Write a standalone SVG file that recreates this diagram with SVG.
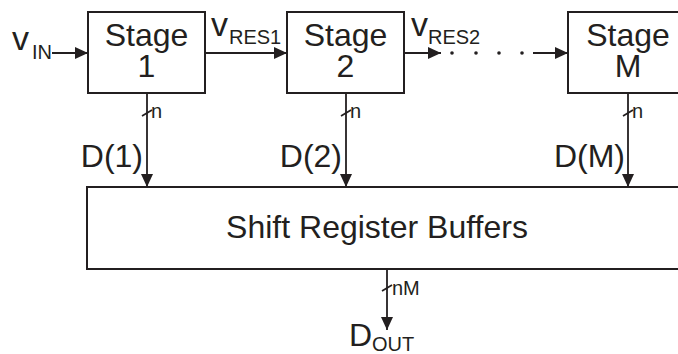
<svg xmlns="http://www.w3.org/2000/svg" width="678" height="354" viewBox="0 0 678 354">
  <defs>
    <marker id="ah" viewBox="0 0 13 12" refX="13" refY="6" markerWidth="13" markerHeight="12" markerUnits="userSpaceOnUse" orient="auto">
      <path d="M0,0 L13,6 L0,12 z" fill="#231f20"/>
    </marker>
  </defs>
  <style>
    .box { fill: #ffffff; stroke: #231f20; stroke-width: 2; }
    .ln { fill: none; stroke: #231f20; stroke-width: 1.8; }
    .arr { fill: none; stroke: #231f20; stroke-width: 1.8; marker-end: url(#ah); }
    .t { font-family: "Liberation Sans", Arial, sans-serif; fill: #231f20; }
    .big { font-size: 32px; }
    .v { font-size: 34px; }
    .sub { font-size: 20px; }
    .sm { font-size: 20px; }
    .dot { fill: #231f20; }
  </style>
  <rect width="678" height="354" fill="#ffffff"/>

  <g id="stage1">
    <rect class="box" x="88" y="12" width="117" height="81"/>
    <text class="t big" text-anchor="middle"><tspan x="146.5" y="46">Stage</tspan><tspan x="146.5" y="77">1</tspan></text>
  </g>
  <g id="stage2">
    <rect class="box" x="287" y="12" width="117" height="81"/>
    <text class="t big" text-anchor="middle"><tspan x="345.5" y="46">Stage</tspan><tspan x="345.5" y="77">2</tspan></text>
  </g>
  <g id="stageM">
    <rect class="box" x="568" y="12" width="120" height="81"/>
    <text class="t big" text-anchor="middle"><tspan x="628" y="46">Stage</tspan><tspan x="628" y="77">M</tspan></text>
  </g>
  <g id="shift">
    <rect class="box" x="87" y="187" width="605" height="82"/>
    <text class="t big" x="377" y="238" text-anchor="middle">Shift Register Buffers</text>
  </g>

  <g id="connectors">
    <line class="arr" x1="52" y1="53" x2="88" y2="53"/>
    <line class="arr" x1="205" y1="53" x2="287" y2="53"/>
    <line class="arr" x1="404" y1="53" x2="441" y2="53"/>
    <circle class="dot" cx="452" cy="53" r="1.8"/>
    <circle class="dot" cx="476" cy="53" r="1.8"/>
    <circle class="dot" cx="499" cy="53" r="1.8"/>
    <circle class="dot" cx="522" cy="53" r="1.8"/>
    <line class="arr" x1="533" y1="53" x2="568" y2="53"/>

    <line class="arr" x1="147" y1="93" x2="147" y2="187"/>
    <line class="arr" x1="346" y1="93" x2="346" y2="187"/>
    <line class="arr" x1="628" y1="93" x2="628" y2="187"/>
    <line class="arr" x1="387" y1="269" x2="387" y2="330"/>

    <line class="ln" x1="142" y1="116" x2="152" y2="110"/>
    <line class="ln" x1="341" y1="116" x2="351" y2="110"/>
    <line class="ln" x1="623" y1="116" x2="633" y2="110"/>
    <line class="ln" x1="382" y1="291" x2="392" y2="285"/>
  </g>

  <g id="labels">
    <text class="t v" x="12" y="50">v</text>
    <text class="t sub" x="32" y="59">IN</text>
    <text class="t v" x="211" y="36">v</text>
    <text class="t sub" x="229" y="44">RES1</text>
    <text class="t v" x="411" y="36">v</text>
    <text class="t sub" x="428" y="44">RES2</text>

    <text class="t sm" x="151" y="118">n</text>
    <text class="t sm" x="350" y="118">n</text>
    <text class="t sm" x="632" y="118">n</text>
    <text class="t sm" x="392" y="295">nM</text>

    <text class="t big" x="143" y="167" text-anchor="end">D(1)</text>
    <text class="t big" x="342" y="167" text-anchor="end">D(2)</text>
    <text class="t big" x="625" y="167" text-anchor="end">D(M)</text>

    <text class="t big" x="349" y="346">D</text>
    <text class="t sub" x="372" y="351">OUT</text>
  </g>
</svg>
